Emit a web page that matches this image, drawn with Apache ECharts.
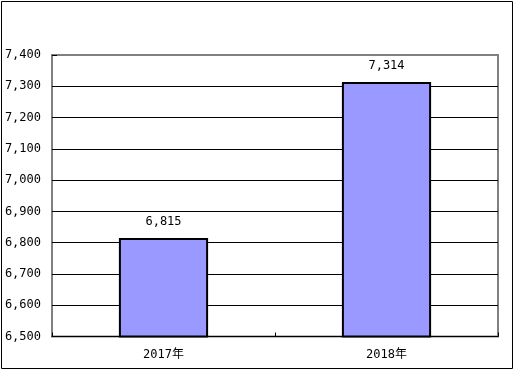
<!DOCTYPE html>
<html>
<head>
<meta charset="utf-8">
<script src="https://cdn.jsdelivr.net/npm/echarts@6/dist/echarts.min.js"></script>
<style>
html,body{margin:0;padding:0;background:#fff;}
#c{width:516px;height:370px;}
</style>
</head>
<body>
<div id="c"></div>
<script>
var categories = ['2017年', '2018年'];
var values = [6815, 7314];
var yMin = 6500, yMax = 7400, yStep = 100;

var fontFam = '"DejaVu Sans Mono", "Noto Sans CJK SC", monospace';
function fmt(v){ return String(v).replace(/\B(?=(\d{3})+(?!\d))/g, ','); }

var chart = echarts.init(document.getElementById('c'), null, {renderer: 'canvas'});
chart.setOption({
  animation: false,
  backgroundColor: '#ffffff',
  graphic: [{
    type: 'rect',
    shape: {x: 1.5, y: 1.5, width: 511, height: 367},
    style: {fill: 'none', stroke: '#000', lineWidth: 1},
    silent: true, z: 100
  }],
  grid: {
    left: 52, top: 55, right: 18, bottom: 33.5,
    show: true, borderColor: '#808080', borderWidth: 2, backgroundColor: '#fff'
  },
  xAxis: {
    type: 'category',
    data: categories,
    axisLine: {show: true, lineStyle: {color: '#000', width: 1}},
    axisTick: {show: true, inside: true, length: 4, lineStyle: {color: '#000'}},
    axisLabel: {color: '#000', fontSize: 12, fontFamily: fontFam, margin: 12}
  },
  yAxis: {
    type: 'value',
    min: yMin, max: yMax, interval: yStep,
    axisLine: {show: false},
    axisTick: {show: true, inside: true, length: 5, lineStyle: {color: '#000'}},
    axisLabel: {color: '#000', fontSize: 12, fontFamily: fontFam, margin: 11,
      formatter: function(v){ return fmt(v); }},
    splitLine: {show: true, showMaxLine: false, lineStyle: {color: '#000', width: 1}}
  },
  series: [{
    type: 'bar',
    data: values,
    barWidth: '40%',
    itemStyle: {color: '#9999FF', borderColor: '#000', borderWidth: 2},
    label: {show: true, position: 'top', distance: 10, color: '#000', fontSize: 12,
      fontFamily: fontFam, formatter: function(p){ return fmt(p.value); }}
  }]
});
</script>
</body>
</html>
